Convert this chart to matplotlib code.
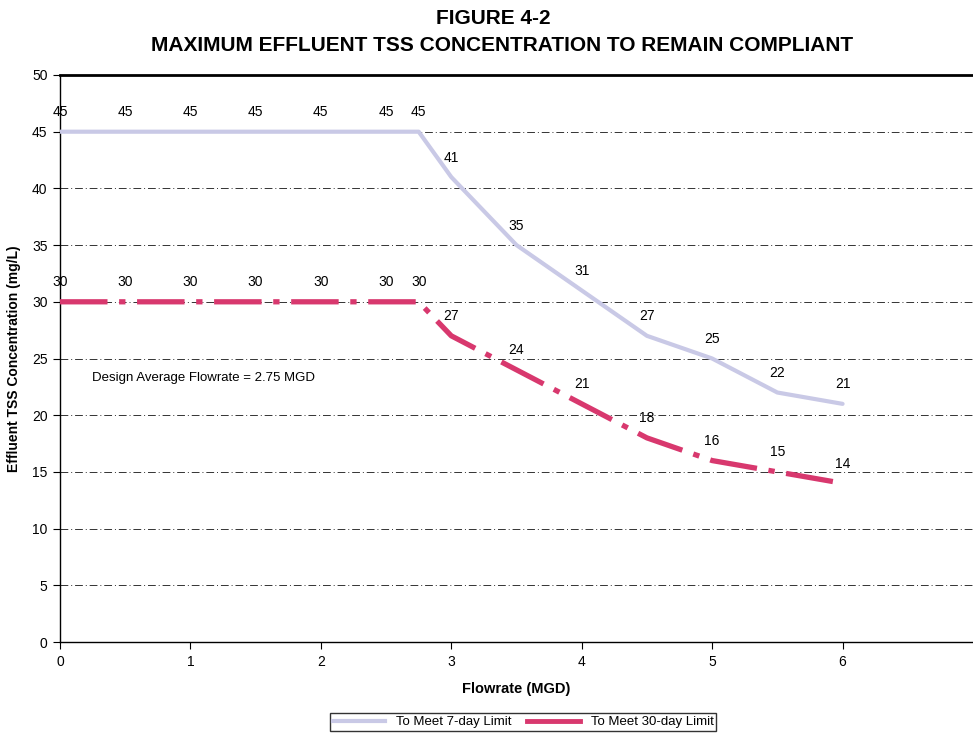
import numpy as np
import matplotlib
matplotlib.use("Agg")
import matplotlib.pyplot as plt
from matplotlib.lines import Line2D

plt.rcParams['font.family'] = ['Liberation Sans', 'DejaVu Sans']

# flowrate (MGD) and the two limit curves (mg/L)
flowrate = [0, 0.5, 1, 1.5, 2, 2.5, 2.75, 3, 3.5, 4, 4.5, 5, 5.5, 6]
tss_7day = [45, 45, 45, 45, 45, 45, 45, 41, 35, 31, 27, 25, 22, 21]
tss_30day = [30, 30, 30, 30, 30, 30, 30, 27, 24, 21, 18, 16, 15, 14]
x_ticks = [0, 1, 2, 3, 4, 5, 6]
y_ticks = [0, 5, 10, 15, 20, 25, 30, 35, 40, 45, 50]

c7 = "#c9c9e6"
c30 = "#d8386e"

fig = plt.figure(figsize=(9.73, 7.34), dpi=100)
ax = fig.add_axes([60 / 973, 92 / 734, 913 / 973, 567 / 734])

ax.plot(flowrate, tss_7day, color=c7, lw=3.0, solid_capstyle="round", zorder=3)
ax.plot(flowrate, tss_30day, color=c30, lw=3.8, dash_capstyle="butt",
        dashes=(9, 2.2, 1.2, 2.2), zorder=3)

# data labels above each point
for x, y in zip(flowrate, tss_7day):
    ax.annotate(str(y), (x, y), xytext=(0, 9), textcoords="offset points",
                ha="center", va="bottom", fontsize=10, zorder=4)
for x, y in zip(flowrate, tss_30day):
    ax.annotate(str(y), (x, y), xytext=(0, 9), textcoords="offset points",
                ha="center", va="bottom", fontsize=10, zorder=4)

ax.text(0.245, 23.3, "Design Average Flowrate = 2.75 MGD", fontsize=9.5,
        ha="left", va="center")

ax.set_xlim(0, 7)
ax.set_ylim(0, 50)
ax.set_xticks(x_ticks)
ax.set_yticks(y_ticks)
ax.tick_params(axis="both", labelsize=10, length=5, pad=4, direction="out",
               width=0.8)
ax.grid(axis="y", color="#333333", lw=0.7, ls=(0, (8, 3, 1, 3)), zorder=1)
for s in ["left", "bottom"]:
    ax.spines[s].set_linewidth(1.0)
ax.spines["top"].set_linewidth(2.0)
ax.spines["right"].set_visible(False)

ax.set_xlabel("Flowrate (MGD)", fontsize=10.5, fontweight="bold", labelpad=10)
ax.set_ylabel("Effluent TSS Concentration (mg/L)", fontsize=10,
              fontweight="bold", labelpad=8)

fig.text(0.507, 0.975, "FIGURE 4-2", ha="center", va="center",
         fontsize=15, fontweight="bold")
fig.text(0.516, 0.938, "MAXIMUM EFFLUENT TSS CONCENTRATION TO REMAIN COMPLIANT",
         ha="center", va="center", fontsize=15, fontweight="bold")

handles = [Line2D([], [], color=c7, lw=3), Line2D([], [], color=c30, lw=3.5)]
fig.legend(handles, ["To Meet 7-day Limit", "To Meet 30-day Limit"],
           loc="center", bbox_to_anchor=(523 / 973, 1 - 722 / 734), ncol=2,
           fontsize=9.5, frameon=True, fancybox=False, edgecolor="black",
           borderpad=0.2, handlelength=4, columnspacing=1.2, handletextpad=0.8)

fig.savefig("out.png", dpi=100)
